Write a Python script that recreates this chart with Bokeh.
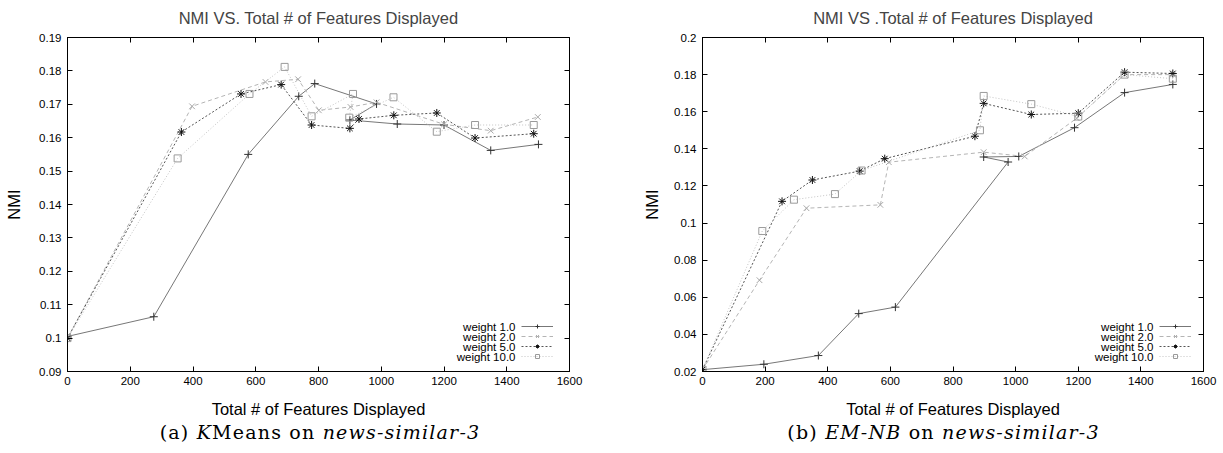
from bokeh.plotting import figure
from bokeh.models import (Range1d, FixedTicker, LinearAxis, Legend, LegendItem, Div, Label,
                          CustomLabelingPolicy)
from bokeh.layouts import row, column
from bokeh.embed import file_html
from bokeh.resources import INLINE

# ---------------- data ----------------
series_names = ["weight 1.0", "weight 2.0", "weight 5.0", "weight 10.0"]

x_ticks = [0, 200, 400, 600, 800, 1000, 1200, 1400, 1600]

km_y_ticks = [0.09, 0.1, 0.11, 0.12, 0.13, 0.14, 0.15, 0.16, 0.17, 0.18, 0.19]
km_y_labels = ["0.09", "0.1", "0.11", "0.12", "0.13", "0.14", "0.15", "0.16", "0.17", "0.18", "0.19"]

nb_y_ticks = [0.02, 0.04, 0.06, 0.08, 0.1, 0.12, 0.14, 0.16, 0.18, 0.2]
nb_y_labels = ["0.02", "0.04", "0.06", "0.08", "0.1", "0.12", "0.14", "0.16", "0.18", "0.2"]

# (a) KMeans on news-similar-3
km_w1_x = [0, 275, 576, 737, 788, 985, 900, 1051, 1200, 1349, 1501]
km_w1_y = [0.1005, 0.1064, 0.155, 0.1724, 0.1762, 0.1701, 0.1653, 0.1641, 0.1638, 0.1562, 0.1580]
km_w2_x = [0, 397, 631, 735, 801, 902, 985, 1200, 1349, 1499]
km_w2_y = [0.1, 0.1694, 0.1767, 0.1775, 0.1682, 0.1692, 0.1706, 0.1640, 0.1621, 0.1662]
km_w5_x = [0, 363, 553, 681, 778, 900, 929, 1040, 1177, 1299, 1486]
km_w5_y = [0.1, 0.1617, 0.1731, 0.1759, 0.1638, 0.1628, 0.1656, 0.1667, 0.1674, 0.1599, 0.1612]
km_w10_x = [0, 351, 580, 692, 778, 910, 898, 1039, 1177, 1299, 1486]
km_w10_y = [0.1, 0.1538, 0.1731, 0.1812, 0.1664, 0.1731, 0.1660, 0.1721, 0.1618, 0.1638, 0.1638]

# (b) EM-NB on news-similar-3
nb_w1_x = [0, 196, 370, 499, 616, 976, 898, 1010, 1188, 1348, 1502]
nb_w1_y = [0.021, 0.0239, 0.0286, 0.0512, 0.0547, 0.1329, 0.1356, 0.1359, 0.1514, 0.1703, 0.1747]
nb_w2_x = [0, 182, 332, 568, 595, 898, 1029, 1195, 1348, 1502]
nb_w2_y = [0.021, 0.0692, 0.108, 0.1098, 0.1328, 0.1382, 0.1359, 0.1565, 0.1800, 0.1800]
nb_w5_x = [0, 254, 351, 502, 582, 870, 898, 1050, 1200, 1348, 1502]
nb_w5_y = [0.021, 0.1117, 0.1232, 0.128, 0.1347, 0.1468, 0.1645, 0.1585, 0.1592, 0.1813, 0.1806]
nb_w10_x = [0, 191, 292, 423, 508, 886, 898, 1050, 1200, 1348, 1502]
nb_w10_y = [0.021, 0.0957, 0.1126, 0.1156, 0.1283, 0.150, 0.1685, 0.1641, 0.1574, 0.1800, 0.1778]

# ---------------- styles ----------------
FONT = "Liberation Sans"
styles = [
    dict(line_color="#777777", line_dash="solid", marker="cross", mcolor="#333333", size=8),
    dict(line_color="#b4b4b4", line_dash="4 3", marker="x", mcolor="#a8a8a8", size=8),
    dict(line_color="#555555", line_dash="2 2", marker="asterisk", mcolor="#111111", size=8),
    dict(line_color="#c4c4c4", line_dash="1 2", marker="square", mcolor="#9a9a9a", size=7),
]

NO_LABELS = "for (const i of indices) indices.unset(i)"


def make_fig(title, xs, ys, y_range, yticks, ylabels, width, mb_left, mb_right, mb_top,
             legend_loc, ylabel_standoff):
    p = figure(width=width, height=420, output_backend="svg", toolbar_location=None,
               x_range=Range1d(0, 1600), y_range=Range1d(*y_range),
               min_border_left=mb_left, min_border_right=mb_right,
               min_border_top=mb_top, min_border_bottom=48)
    p.background_fill_color = "white"
    p.border_fill_color = "white"
    p.outline_line_color = "black"
    p.outline_line_width = 1
    p.xgrid.visible = False
    p.ygrid.visible = False

    p.title.text = title
    p.title.text_font = FONT
    p.title.text_font_size = "16.5px"
    p.title.text_font_style = "normal"
    p.title.align = "center"
    p.title.standoff = 13

    for ax in (p.xaxis[0], p.yaxis[0]):
        ax.major_tick_in = 5
        ax.major_tick_out = 0
        ax.minor_tick_line_color = None
        ax.axis_line_color = "black"
        ax.major_tick_line_color = "black"
        ax.major_label_text_font = FONT
        ax.major_label_text_font_size = "11.5px"
        ax.major_label_text_color = "black"
        ax.axis_label_text_font = FONT
        ax.axis_label_text_font_size = "16.5px"
        ax.axis_label_text_font_style = "normal"
        ax.axis_label_text_color = "black"

    p.xaxis[0].ticker = FixedTicker(ticks=x_ticks)
    p.xaxis[0].major_label_standoff = 5
    p.xaxis[0].axis_label = "Total # of Features Displayed"
    p.xaxis[0].axis_label_standoff = 12

    p.yaxis[0].ticker = FixedTicker(ticks=yticks)
    p.yaxis[0].major_label_overrides = dict(zip(yticks, ylabels))
    p.yaxis[0].major_label_standoff = 6
    p.yaxis[0].axis_label = "NMI"
    p.yaxis[0].axis_label_standoff = ylabel_standoff

    # mirrored inward ticks on top and right, without labels
    for ticks, side in ((x_ticks, "above"), (yticks, "right")):
        ax = LinearAxis(ticker=FixedTicker(ticks=ticks), major_label_text_font_size="1px",
                        major_label_standoff=0, major_tick_in=5, major_tick_out=0,
                        minor_tick_line_color=None, axis_line_color="black",
                        major_label_policy=CustomLabelingPolicy(code=NO_LABELS))
        p.add_layout(ax, side)

    items = []
    for name, x, y, st in zip(series_names, xs, ys, styles):
        lr = p.line(x, y, line_color=st["line_color"], line_dash=st["line_dash"], line_width=1)
        sr = p.scatter(x, y, marker=st["marker"], size=st["size"], line_color=st["mcolor"],
                       fill_color=None, line_width=1)
        items.append(LegendItem(label="", renderers=[lr, sr]))

    gw = 32
    vx, vy = legend_loc
    legend = Legend(items=items, location=(vx, vy), orientation="vertical",
                    glyph_width=gw, glyph_height=10, label_height=10, spacing=0,
                    padding=0, margin=0, label_standoff=0,
                    label_text_font=FONT, label_text_font_size="6px",
                    border_line_alpha=0, background_fill_alpha=0)
    p.add_layout(legend)

    # legend texts to the left of the samples (gnuplot style)
    n = len(series_names)
    for i, name in enumerate(series_names):
        p.add_layout(Label(x=vx - 6, y=vy + 5 + 10 * (n - 1 - i), x_units="screen", y_units="screen",
                           text=name, text_align="right", text_baseline="middle",
                           text_font=FONT, text_font_size="11.5px", text_color="black"))
    return p


p1 = make_fig("NMI VS. Total # of Features Displayed",
              [km_w1_x, km_w2_x, km_w5_x, km_w10_x],
              [km_w1_y, km_w2_y, km_w5_y, km_w10_y],
              (0.09, 0.19), km_y_ticks, km_y_labels,
              width=640, mb_left=67, mb_right=71, mb_top=31,
              legend_loc=(454, 10), ylabel_standoff=13)

p2 = make_fig("NMI VS .Total # of Features Displayed",
              [nb_w1_x, nb_w2_x, nb_w5_x, nb_w10_x],
              [nb_w1_y, nb_w2_y, nb_w5_y, nb_w10_y],
              (0.02, 0.2), nb_y_ticks, nb_y_labels,
              width=583, mb_left=62, mb_right=20, mb_top=32,
              legend_loc=(457, 10), ylabel_standoff=10)

cap_style = {"font-family": "DejaVu Serif", "font-size": "19px", "line-height": "24px",
             "text-align": "center", "color": "black", "letter-spacing": "1.2px"}
d1 = Div(text="(a) <i>K</i>Means on <i>news-similar-3</i>", width=640, height=30,
         margin=0, styles=dict(cap_style, width="640px"))
d2 = Div(text="(b) <i>EM-NB</i> on <i>news-similar-3</i>", width=583, height=30,
         margin=0, styles=dict(cap_style, width="583px", **{"padding-left": "24px",
                                                           "box-sizing": "border-box"}))

layout = row(column(p1, d1, spacing=0), column(p2, d2, spacing=0), spacing=0)

with open("out.html", "w") as f:
    f.write(file_html(layout, INLINE))
